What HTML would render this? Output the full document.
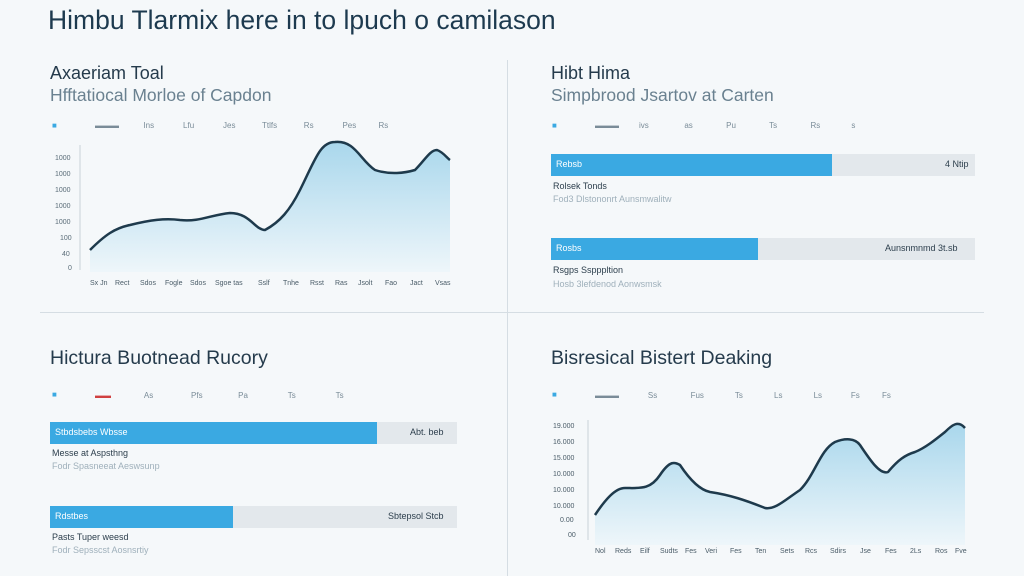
<!DOCTYPE html>
<html><head><meta charset="utf-8"><style>
html,body{margin:0;padding:0;}
body{width:1024px;height:576px;background:#f5f8fa;font-family:"Liberation Sans",sans-serif;position:relative;overflow:hidden;color:#1e3446;}
.a{position:absolute;white-space:nowrap;}
.t{font-size:26.5px;color:#1d3a4f;}
.h{font-size:18px;color:#253b4c;}
.h2{font-size:19.5px;color:#253b4c;}
.s{font-size:17.5px;color:#6a8190;}
.sm{font-size:8px;color:#7a8c98;}
.lab{font-size:9px;color:#2c3e4c;}
.lab2{font-size:9px;color:#9fb0bb;}
.bar{position:absolute;background:#3aa9e2;}
.bg{position:absolute;background:#e3e8ec;}
</style></head><body>
<div class="a t" style="left:48px;top:5px">Himbu Tlarmix here in to lpuch o camilason</div>
<div class="a" style="left:40px;top:312px;width:944px;height:1px;background:#d5dde3"></div>
<div class="a" style="left:507px;top:60px;width:1px;height:516px;background:#d5dde3"></div>

<!-- TL -->
<div class="a h" style="left:50px;top:63px">Axaeriam Toal</div>
<div class="a s" style="left:50px;top:85px">Hfftatiocal Morloe of Capdon</div>
<div class="a sm" style="left:52px;top:121px;color:#3aa9e2">■</div>
<div class="a sm" style="left:95px;top:121px">▬▬▬ &nbsp;&nbsp;&nbsp;&nbsp;&nbsp;&nbsp;&nbsp;&nbsp;&nbsp; Ins &nbsp;&nbsp;&nbsp;&nbsp;&nbsp;&nbsp;&nbsp;&nbsp;&nbsp;&nbsp;&nbsp; Lfu &nbsp;&nbsp;&nbsp;&nbsp;&nbsp;&nbsp;&nbsp;&nbsp;&nbsp;&nbsp;&nbsp; Jes &nbsp;&nbsp;&nbsp;&nbsp;&nbsp;&nbsp;&nbsp;&nbsp;&nbsp;&nbsp; Ttlfs &nbsp;&nbsp;&nbsp;&nbsp;&nbsp;&nbsp;&nbsp;&nbsp;&nbsp;&nbsp; Rs &nbsp;&nbsp;&nbsp;&nbsp;&nbsp;&nbsp;&nbsp;&nbsp;&nbsp;&nbsp;&nbsp; Pes &nbsp;&nbsp;&nbsp;&nbsp;&nbsp;&nbsp;&nbsp;&nbsp; Rs</div>
<svg class="a" style="left:0;top:0" width="1024" height="576">
<defs><linearGradient id="g" x1="0" y1="0" x2="0" y2="1"><stop offset="0" stop-color="#a9d7ec"/><stop offset="1" stop-color="#eef6fa"/></linearGradient></defs>
<g font-size="7" fill="#5a6c78" font-family="Liberation Sans">
<text x="55" y="160">1000</text><text x="55" y="176">1000</text><text x="55" y="192">1000</text><text x="55" y="208">1000</text><text x="55" y="224">1000</text><text x="60" y="240">100</text><text x="62" y="256">40</text><text x="68" y="270">0</text>
</g>
<line x1="80" y1="145" x2="80" y2="270" stroke="#c9d2d8"/>
<path d="M90,250 C105,235 115,228 130,225 C150,220 165,218 180,220 C200,222 210,215 230,213 C250,213 255,230 265,230 C280,222 290,210 300,190 C315,160 320,142 335,142 C355,140 360,160 375,170 C390,175 405,173 415,170 C425,160 430,150 437,150 C443,152 447,158 450,160 L450,272 L90,272 Z" fill="url(#g)"/>
<path d="M90,250 C105,235 115,228 130,225 C150,220 165,218 180,220 C200,222 210,215 230,213 C250,213 255,230 265,230 C280,222 290,210 300,190 C315,160 320,142 335,142 C355,140 360,160 375,170 C390,175 405,173 415,170 C425,160 430,150 437,150 C443,152 447,158 450,160" fill="none" stroke="#1e3a4c" stroke-width="2.5"/>
<g font-size="7" fill="#4a5c68" font-family="Liberation Sans">
<text x="90" y="285">Sx Jn</text><text x="115" y="285">Rect</text><text x="140" y="285">Sdos</text><text x="165" y="285">Fogle</text><text x="190" y="285">Sdos</text><text x="215" y="285">Sgoe tas</text><text x="258" y="285">Sslf</text><text x="283" y="285">Tnhe</text><text x="310" y="285">Rsst</text><text x="335" y="285">Ras</text><text x="358" y="285">Jsolt</text><text x="385" y="285">Fao</text><text x="410" y="285">Jact</text><text x="435" y="285">Vsas</text>
</g>
<!-- BR chart -->
<g font-size="7" fill="#4a5c68" font-family="Liberation Sans">
<text x="553" y="428">19.000</text><text x="553" y="444">16.000</text><text x="553" y="460">15.000</text><text x="553" y="476">10.000</text><text x="553" y="492">10.000</text><text x="553" y="508">10.000</text><text x="560" y="522">0.00</text><text x="568" y="537">00</text>
</g>
<line x1="588" y1="420" x2="588" y2="540" stroke="#c9d2d8"/>
<path d="M595,515 C605,500 615,488 625,488 C640,488 650,490 660,475 C670,460 675,462 680,465 C690,480 700,490 710,492 C730,495 745,500 765,508 C775,510 785,500 800,490 C815,475 820,450 835,442 C845,438 855,438 860,445 C870,460 880,475 888,472 C898,460 905,455 915,452 C925,448 935,440 945,432 C952,425 958,420 965,428 L965,545 L595,545 Z" fill="url(#g)"/>
<path d="M595,515 C605,500 615,488 625,488 C640,488 650,490 660,475 C670,460 675,462 680,465 C690,480 700,490 710,492 C730,495 745,500 765,508 C775,510 785,500 800,490 C815,475 820,450 835,442 C845,438 855,438 860,445 C870,460 880,475 888,472 C898,460 905,455 915,452 C925,448 935,440 945,432 C952,425 958,420 965,428" fill="none" stroke="#1e3a4c" stroke-width="2.5"/>
<g font-size="7" fill="#4a5c68" font-family="Liberation Sans">
<text x="595" y="553">Nol</text><text x="615" y="553">Reds</text><text x="640" y="553">Eilf</text><text x="660" y="553">Sudts</text><text x="685" y="553">Fes</text><text x="705" y="553">Veri</text><text x="730" y="553">Fes</text><text x="755" y="553">Ten</text><text x="780" y="553">Sets</text><text x="805" y="553">Rcs</text><text x="830" y="553">Sdirs</text><text x="860" y="553">Jse</text><text x="885" y="553">Fes</text><text x="910" y="553">2Ls</text><text x="935" y="553">Ros</text><text x="955" y="553">Fve</text>
</g>
</svg>

<!-- TR -->
<div class="a h" style="left:551px;top:63px">Hibt Hima</div>
<div class="a s" style="left:551px;top:85px">Simpbrood Jsartov at Carten</div>
<div class="a sm" style="left:552px;top:121px;color:#3aa9e2">■</div>
<div class="a sm" style="left:595px;top:121px">▬▬▬ &nbsp;&nbsp;&nbsp;&nbsp;&nbsp;&nbsp;&nbsp; ivs &nbsp;&nbsp;&nbsp;&nbsp;&nbsp;&nbsp;&nbsp;&nbsp;&nbsp;&nbsp;&nbsp;&nbsp;&nbsp;&nbsp; as &nbsp;&nbsp;&nbsp;&nbsp;&nbsp;&nbsp;&nbsp;&nbsp;&nbsp;&nbsp;&nbsp;&nbsp;&nbsp; Pu &nbsp;&nbsp;&nbsp;&nbsp;&nbsp;&nbsp;&nbsp;&nbsp;&nbsp;&nbsp;&nbsp;&nbsp;&nbsp; Ts &nbsp;&nbsp;&nbsp;&nbsp;&nbsp;&nbsp;&nbsp;&nbsp;&nbsp;&nbsp;&nbsp;&nbsp;&nbsp; Rs &nbsp;&nbsp;&nbsp;&nbsp;&nbsp;&nbsp;&nbsp;&nbsp;&nbsp;&nbsp;&nbsp;&nbsp; s</div>
<div class="bg" style="left:551px;top:154px;width:424px;height:22px"></div>
<div class="bar" style="left:551px;top:154px;width:281px;height:22px"></div>
<div class="a lab" style="left:556px;top:159px;color:#fff">Rebsb</div>
<div class="a lab" style="left:945px;top:159px">4 Ntip</div>
<div class="a lab" style="left:553px;top:181px">Rolsek Tonds</div>
<div class="a lab2" style="left:553px;top:194px">Fod3 Dlstononrt Aunsmwalitw</div>
<div class="bg" style="left:551px;top:238px;width:424px;height:22px"></div>
<div class="bar" style="left:551px;top:238px;width:207px;height:22px"></div>
<div class="a lab" style="left:556px;top:243px;color:#fff">Rosbs</div>
<div class="a lab" style="left:885px;top:243px">Aunsnmnmd 3t.sb</div>
<div class="a lab" style="left:553px;top:265px">Rsgps Sspppltion</div>
<div class="a lab2" style="left:553px;top:279px">Hosb 3lefdenod Aonwsmsk</div>

<!-- BL -->
<div class="a h2" style="left:50px;top:347px">Hictura Buotnead Rucory</div>
<div class="a sm" style="left:52px;top:390px;color:#3aa9e2">■</div>
<div class="a sm" style="left:95px;top:391px"><span style="color:#d04040">▬▬</span> &nbsp;&nbsp;&nbsp;&nbsp;&nbsp;&nbsp;&nbsp;&nbsp;&nbsp;&nbsp;&nbsp;&nbsp;&nbsp; As &nbsp;&nbsp;&nbsp;&nbsp;&nbsp;&nbsp;&nbsp;&nbsp;&nbsp;&nbsp;&nbsp;&nbsp;&nbsp;&nbsp;&nbsp; Pfs &nbsp;&nbsp;&nbsp;&nbsp;&nbsp;&nbsp;&nbsp;&nbsp;&nbsp;&nbsp;&nbsp;&nbsp;&nbsp;&nbsp; Pa &nbsp;&nbsp;&nbsp;&nbsp;&nbsp;&nbsp;&nbsp;&nbsp;&nbsp;&nbsp;&nbsp;&nbsp;&nbsp;&nbsp;&nbsp;&nbsp; Ts &nbsp;&nbsp;&nbsp;&nbsp;&nbsp;&nbsp;&nbsp;&nbsp;&nbsp;&nbsp;&nbsp;&nbsp;&nbsp;&nbsp;&nbsp;&nbsp; Ts</div>
<div class="bg" style="left:50px;top:422px;width:407px;height:22px"></div>
<div class="bar" style="left:50px;top:422px;width:327px;height:22px"></div>
<div class="a lab" style="left:55px;top:427px;color:#fff">Stbdsbebs Wbsse</div>
<div class="a lab" style="left:410px;top:427px">Abt. beb</div>
<div class="a lab" style="left:52px;top:448px">Messe at Aspsthng</div>
<div class="a lab2" style="left:52px;top:461px">Fodr Spasneeat Aeswsunp</div>
<div class="bg" style="left:50px;top:506px;width:407px;height:22px"></div>
<div class="bar" style="left:50px;top:506px;width:183px;height:22px"></div>
<div class="a lab" style="left:55px;top:511px;color:#fff">Rdstbes</div>
<div class="a lab" style="left:388px;top:511px">Sbtepsol Stcb</div>
<div class="a lab" style="left:52px;top:532px">Pasts Tuper weesd</div>
<div class="a lab2" style="left:52px;top:545px">Fodr Sepsscst Aosnsrtiy</div>

<!-- BR -->
<div class="a h2" style="left:551px;top:347px">Bisresical Bistert Deaking</div>
<div class="a sm" style="left:552px;top:390px;color:#3aa9e2">■</div>
<div class="a sm" style="left:595px;top:391px">▬▬▬ &nbsp;&nbsp;&nbsp;&nbsp;&nbsp;&nbsp;&nbsp;&nbsp;&nbsp;&nbsp;&nbsp; Ss &nbsp;&nbsp;&nbsp;&nbsp;&nbsp;&nbsp;&nbsp;&nbsp;&nbsp;&nbsp;&nbsp;&nbsp;&nbsp; Fus &nbsp;&nbsp;&nbsp;&nbsp;&nbsp;&nbsp;&nbsp;&nbsp;&nbsp;&nbsp;&nbsp;&nbsp; Ts &nbsp;&nbsp;&nbsp;&nbsp;&nbsp;&nbsp;&nbsp;&nbsp;&nbsp;&nbsp;&nbsp;&nbsp; Ls &nbsp;&nbsp;&nbsp;&nbsp;&nbsp;&nbsp;&nbsp;&nbsp;&nbsp;&nbsp;&nbsp;&nbsp; Ls &nbsp;&nbsp;&nbsp;&nbsp;&nbsp;&nbsp;&nbsp;&nbsp;&nbsp;&nbsp;&nbsp; Fs &nbsp;&nbsp;&nbsp;&nbsp;&nbsp;&nbsp;&nbsp;&nbsp; Fs</div>
</body></html>
